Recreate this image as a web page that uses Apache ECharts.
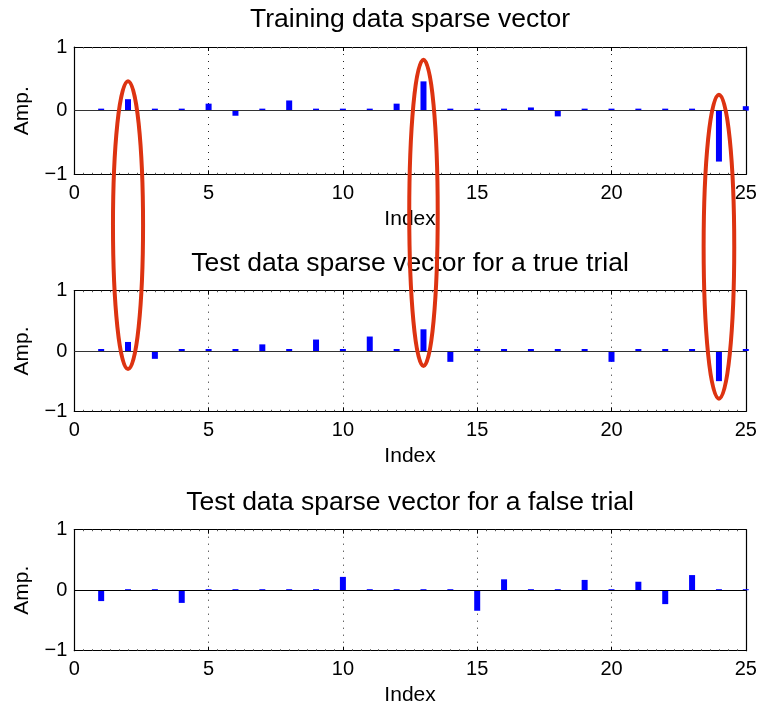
<!DOCTYPE html>
<html><head><meta charset="utf-8">
<script src="https://cdn.jsdelivr.net/npm/echarts@6/dist/echarts.min.js"></script>
<style>html,body{margin:0;padding:0;background:#fff}#c{width:760px;height:709px}</style>
</head><body><div id="c"></div>
<script>
// ---- data ----
const indices = [1,2,3,4,5,6,7,8,9,10,11,12,13,14,15,16,17,18,19,20,21,22,23,24,25];
const yTickValues = [-1, 0, 1];
const panelTitles = [
  'Training data sparse vector',
  'Test data sparse vector for a true trial',
  'Test data sparse vector for a false trial'
];
const trainValues     = [0, 0.18, 0, 0, 0.11, -0.08, 0, 0.16, 0, 0, 0, 0.11, 0.46, 0, 0, 0, 0.05, -0.09, 0, 0, 0, 0, 0, -0.80, 0.07];
const trueTrialValues = [0, 0.15, -0.13, 0, 0, 0, 0.11, 0, 0.19, 0, 0.24, 0, 0.36, -0.18, 0, 0, 0, 0, 0, -0.18, 0, 0, 0, -0.50, 0];
const falseTrialValues= [-0.18, 0, 0, -0.21, 0, 0, 0, 0, 0, 0.22, 0, 0, 0, 0, -0.34, 0.18, 0, 0, 0.17, 0, 0.14, -0.23, 0.25, 0, 0];
// highlighted (circled) atoms: index, top amplitude in panel 1, bottom amplitude in panel 2, half width in index units
const circledIdx    = [2, 13, 24];
const circledTop    = [0.46, 0.80, 0.25];
const circledBottom = [-0.30, -0.25, -0.79];
const circledHalfW  = [0.56, 0.53, 0.57];

const FONT = '"Liberation Sans", Arial, Helvetica, sans-serif';
const panels = [trainValues, trueTrialValues, falseTrialValues];
const grids = [
  {left: 74.3, right: 14.2, top: 47, height: 127.3},
  {left: 74.3, right: 14.2, top: 290.7, height: 120.6},
  {left: 74.3, right: 14.2, top: 529.7, height: 121}
];
const lineBlack = {color: '#000', width: 1.2};
const xAxes = [], yAxes = [], series = [];
grids.forEach((g, i) => {
  xAxes.push({
    type: 'value', gridIndex: i, position: 'bottom', min: 0, max: 25, interval: 5,
    axisLine: {show: true, onZero: false, lineStyle: lineBlack},
    axisTick: {show: true, inside: true, length: 4, lineStyle: {color: '#000'}},
    minorTick: {show: true, splitNumber: 15, length: 1.5, lineStyle: {color: '#555'}},
    splitLine: {show: true, lineStyle: {color: '#222', width: 1, type: [1, 6]}},
    axisLabel: {color: '#000', fontSize: 20, fontFamily: FONT, margin: 9},
    name: 'Index', nameLocation: 'middle', nameGap: 34,
    nameTextStyle: {color: '#000', fontSize: 21, fontFamily: FONT}
  });
  yAxes.push({
    type: 'value', gridIndex: i, position: 'left', min: -1, max: 1, interval: 1,
    axisLine: {show: true, onZero: false, lineStyle: lineBlack},
    axisTick: {show: true, inside: true, length: 4, lineStyle: {color: '#000'}},
    splitLine: {show: false},
    axisLabel: {color: '#000', fontSize: 20, fontFamily: FONT, margin: 7,
      formatter: v => (yTickValues.indexOf(v) >= 0 ? (v < 0 ? '\u2212' + Math.abs(v) : String(v)) : '')},
    name: 'Amp.', nameLocation: 'middle', nameGap: 42, nameRotate: 90,
    nameTextStyle: {color: '#000', fontSize: 21, fontFamily: FONT}
  });
});
grids.forEach((g, i) => {
  xAxes.push({
    type: 'value', gridIndex: i, position: 'top', min: 0, max: 25, interval: 5,
    axisLine: {show: true, onZero: false, lineStyle: lineBlack},
    axisTick: {show: true, inside: true, length: 4, lineStyle: {color: '#000'}},
    minorTick: {show: true, splitNumber: 15, length: 1.5, lineStyle: {color: '#555'}},
    splitLine: {show: false}, axisLabel: {show: false}
  });
  yAxes.push({
    type: 'value', gridIndex: i, position: 'right', min: -1, max: 1, interval: 1,
    axisLine: {show: true, onZero: false, lineStyle: lineBlack},
    axisTick: {show: true, inside: true, length: 4, lineStyle: {color: '#000'}},
    splitLine: {show: false}, axisLabel: {show: false}
  });
});
panels.forEach((vals, i) => {
  series.push({
    type: 'bar', xAxisIndex: i, yAxisIndex: i,
    data: indices.map((x, k) => [x, vals[k]]),
    barWidth: 6, barMinHeight: i === 2 ? 1 : 2,
    itemStyle: {color: '#0000ff', opacity: 1},
    markLine: {
      silent: true, symbol: ['none', 'none'], label: {show: false},
      lineStyle: {color: i === 2 ? '#000' : '#333', width: 1.2, type: 'solid'},
      data: [{yAxis: 0}]
    }
  });
});

const chart = echarts.init(document.getElementById('c'), null, {renderer: 'canvas'});
chart.setOption({
  animation: false,
  grid: grids,
  xAxis: xAxes,
  yAxis: yAxes,
  series: series
});

// titles + ellipses computed from the axes
const graphics = [];
const titleCapCenterOffset = 27.5; // px above plot top
grids.forEach((g, i) => {
  const c = chart.convertToPixel({xAxisIndex: i, yAxisIndex: i}, [12.5, 1]);
  graphics.push({
    type: 'text', x: c[0], y: c[1] - titleCapCenterOffset, z: 50,
    style: {text: panelTitles[i], font: '26.5px ' + FONT, fill: '#000',
      textAlign: 'center', textVerticalAlign: 'middle', verticalAlign: 'middle'}
  });
});
circledIdx.forEach((ix, k) => {
  const top = chart.convertToPixel({xAxisIndex: 0, yAxisIndex: 0}, [ix, circledTop[k]]);
  const bot = chart.convertToPixel({xAxisIndex: 1, yAxisIndex: 1}, [ix, circledBottom[k]]);
  const right = chart.convertToPixel({xAxisIndex: 0, yAxisIndex: 0}, [ix + circledHalfW[k], 0]);
  graphics.push({
    type: 'ellipse', z: 100, silent: true,
    shape: {cx: top[0], cy: (top[1] + bot[1]) / 2, rx: right[0] - top[0], ry: (bot[1] - top[1]) / 2},
    style: {fill: 'none', stroke: '#dd3311', lineWidth: 4}
  });
});
chart.setOption({graphic: graphics});
</script>
</body></html>
